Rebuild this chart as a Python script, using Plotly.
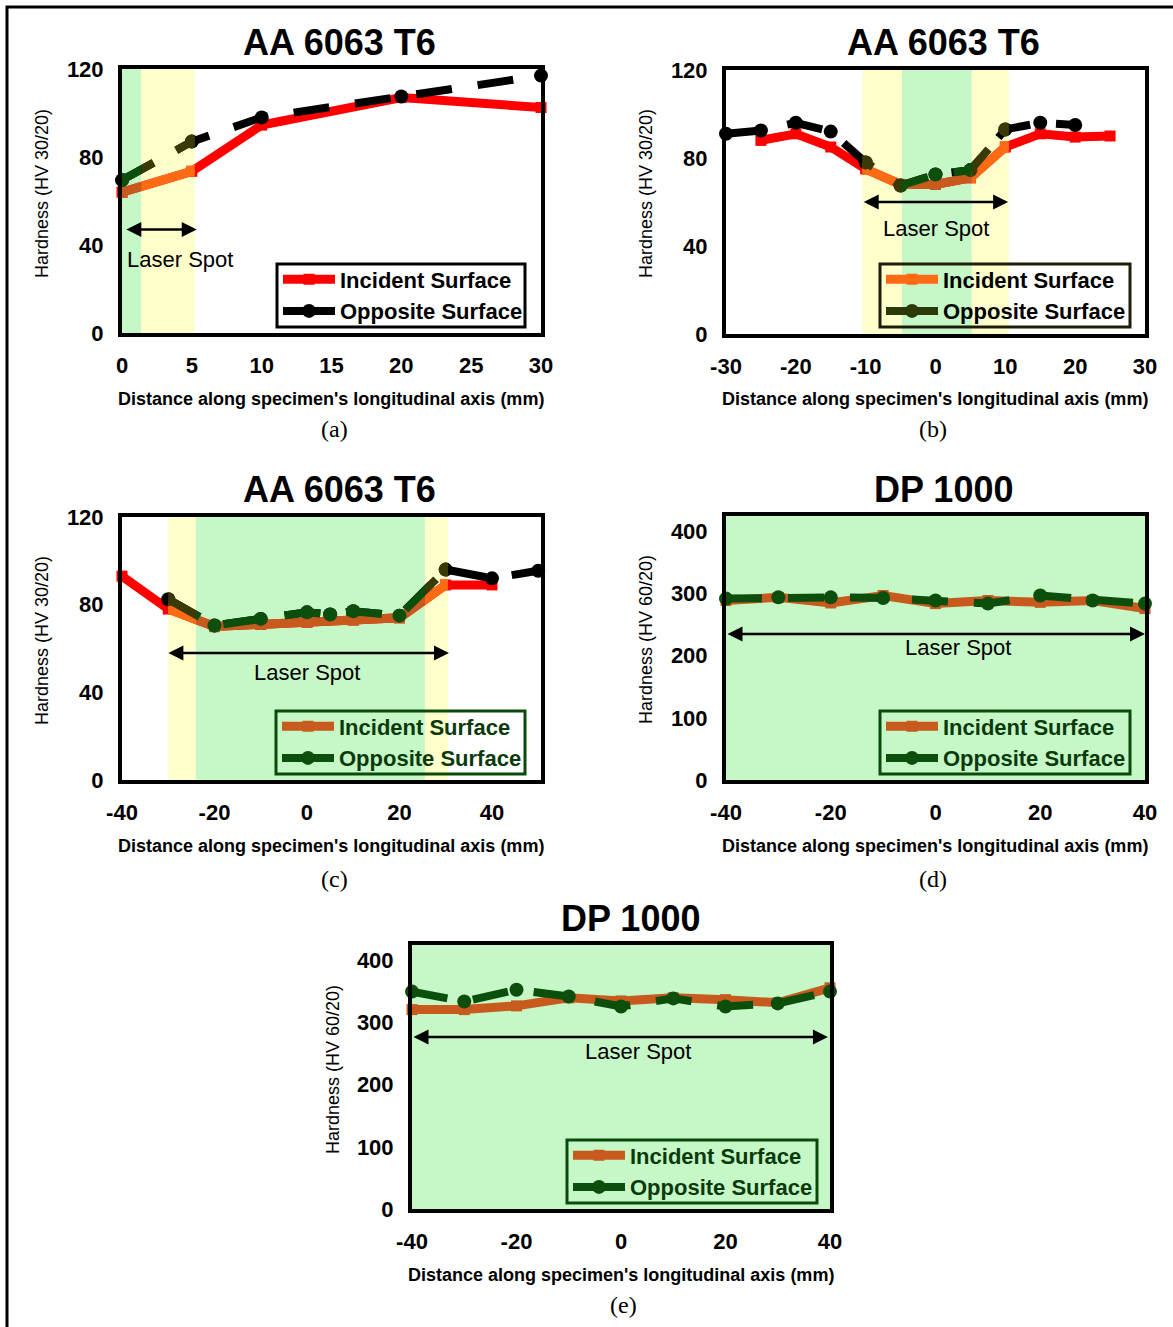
import plotly.graph_objects as go

W, H = 1173, 1327

# ---------------- data ----------------
a_inc_x = [0, 5, 10, 20, 30]
a_inc_y = [64, 73.5, 94.5, 107, 102.5]
a_opp_x = [0, 5, 10, 20, 30]
a_opp_y = [69.5, 87, 98, 107.5, 117]

b_inc_x = [-25, -20, -15, -10, -5, 0, 5, 10, 15, 20, 25]
b_inc_y = [88, 91, 85, 75, 68, 68, 71, 85, 91, 89.5, 90]
b_opp_x = [-30, -25, -20, -15, -10, -5, 0, 5, 10, 15, 20]
b_opp_y = [91, 92.5, 96, 92, 78, 67.5, 72.5, 74.5, 93, 96, 95]

c_inc_x = [-40, -30, -20, -10, 0, 10, 20, 30, 40]
c_inc_y = [93, 78, 70, 71, 72, 73, 74, 89, 89]
c_opp_x = [-30, -20, -10, 0, 5, 10, 20, 30, 40, 50]
c_opp_y = [82.5, 70.5, 73.5, 76.5, 75.5, 77, 75, 96, 92, 95.5]

d_x = [-40, -30, -20, -10, 0, 10, 20, 30, 40]
d_inc_y = [289, 294, 285, 297, 284, 289, 286, 289, 276]
d_opp_y = [292, 294, 294, 293, 289, 284, 297, 289, 284]

e_x = [-40, -30, -20, -10, 0, 10, 20, 30, 40]
e_inc_y = [321, 321, 327, 340, 335, 340, 337, 332, 356]
e_opp_y = [350, 334, 353, 342, 326, 339, 326, 331, 350]

ticks_a = [0, 5, 10, 15, 20, 25, 30]
ticks_b = [-30, -20, -10, 0, 10, 20, 30]
ticks_cde = [-40, -20, 0, 20, 40]
yticks_al = [0, 40, 80, 120]
yticks_dp = [0, 100, 200, 300, 400]

titles = ["AA 6063 T6", "AA 6063 T6", "AA 6063 T6", "DP 1000", "DP 1000"]
ytitles = ["Hardness (HV 30/20)", "Hardness (HV 30/20)", "Hardness (HV 30/20)",
           "Hardness (HV 60/20)", "Hardness (HV 60/20)"]
xtitle = "Distance along specimen's longitudinal axis (mm)"
captions = ["(a)", "(b)", "(c)", "(d)", "(e)"]
series_names = ["Incident Surface", "Opposite Surface"]

# ---------------- styling ----------------
FONT = "Arial, Liberation Sans, sans-serif"
SERIF = "Times New Roman, Liberation Serif, serif"
GREEN_BG = "#c6f7c6"
YELLOW_BG = "#ffffcc"
RED = "#ff0000"
BLACK = "#000000"
INC_COL = {"white": RED, "yellow": "#ff6a14", "green": "#c85a1e"}
OPP_COL = {"white": BLACK, "yellow": "#3a3a08", "green": "#0c4f0c"}
BG_COL = {"yellow": YELLOW_BG, "green": GREEN_BG}
DASH = "36px,26px"


def px(x):
    return x / W


def py(y):
    return 1 - y / H


panels = [
    dict(dom_x=(122, 541), dom_y=(69, 333), xr=[0, 30], yr=[0, 120], xt=ticks_a, yt=yticks_al,
         inc=(a_inc_x, a_inc_y), opp=(a_opp_x, a_opp_y),
         regions=[(0, 1.37, "green"), (1.37, 5.2, "yellow")], full="white",
         arrow=(0.2, 5.35, 47), spot=(4.15, 33.6),
         title=(339, 42), xtit=(331, 399), ytit=(42, 194), cap=(334, 429),
         lbox=(277, 264, 525, 327), leg_inc=RED, leg_opp=BLACK, leg_border=BLACK, leg_text=BLACK),
    dict(dom_x=(726, 1145), dom_y=(70, 334), xr=[-30, 30], yr=[0, 120], xt=ticks_b, yt=yticks_al,
         inc=(b_inc_x, b_inc_y), opp=(b_opp_x, b_opp_y),
         regions=[(-10.5, -4.8, "yellow"), (-4.8, 5.2, "green"), (5.2, 10.5, "yellow")], full="white",
         arrow=(-10.5, 10.4, 60), spot=(0, 48),
         title=(943, 42), xtit=(935, 399), ytit=(646, 194), cap=(933, 429),
         lbox=(880, 264, 1130, 327), leg_inc="#ff6a14", leg_opp="#2a3a08", leg_border="#1e1e08", leg_text=BLACK),
    dict(dom_x=(122, 541), dom_y=(517, 780), xr=[-40, 50.6], yr=[0, 120], xt=ticks_cde, yt=yticks_al,
         inc=(c_inc_x, c_inc_y), opp=(c_opp_x, c_opp_y),
         regions=[(-30, -24, "yellow"), (-24, 25.5, "green"), (25.5, 30.5, "yellow")], full="white",
         arrow=(-30.3, 30.7, 58), spot=(0, 49),
         title=(339, 489), xtit=(331, 846), ytit=(42, 641), cap=(334, 879),
         lbox=(276, 711, 525, 774), leg_inc="#c85a1e", leg_opp="#0c4f0c", leg_border="#0c4a0c", leg_text="#0a3a0a"),
    dict(dom_x=(726, 1145), dom_y=(516, 780), xr=[-40, 40], yr=[0, 425], xt=ticks_cde, yt=yticks_dp,
         inc=(d_x, d_inc_y), opp=(d_x, d_opp_y),
         regions=[], full="green",
         arrow=(-40, 40, 235), spot=(4.2, 213),
         title=(943, 489), xtit=(935, 846), ytit=(646, 640), cap=(933, 879),
         lbox=(880, 711, 1130, 774), leg_inc="#c85a1e", leg_opp="#0c4f0c", leg_border="#0c4a0c", leg_text="#0a3a0a"),
    dict(dom_x=(412, 830), dom_y=(945, 1209), xr=[-40, 40], yr=[0, 425], xt=ticks_cde, yt=yticks_dp,
         inc=(e_x, e_inc_y), opp=(e_x, e_opp_y),
         regions=[], full="green",
         arrow=(-40, 39.6, 277), spot=(3.3, 253),
         title=(630, 918), xtit=(621, 1275), ytit=(333, 1070), cap=(623, 1305),
         lbox=(567, 1140, 817, 1203), leg_inc="#c85a1e", leg_opp="#0c4f0c", leg_border="#0c4a0c", leg_text="#0a3a0a"),
]

fig = go.Figure()
layout = dict(
    width=W, height=H, margin=dict(l=0, r=0, t=0, b=0, pad=0, autoexpand=False),
    paper_bgcolor="white", plot_bgcolor="rgba(0,0,0,0)",
    font=dict(family=FONT, color="black"),
    showlegend=True,
)
shapes = []
annotations = []

next_axis = 6


def add_series(xs, ys, kind, color, xref, yref, clip=True):
    if kind == "inc":
        fig.add_trace(go.Scatter(
            x=xs, y=ys, mode="lines+markers", xaxis=xref, yaxis=yref, showlegend=False,
            line=dict(color=color, width=9),
            marker=dict(symbol="square", size=11, color=color),
            cliponaxis=clip, hoverinfo="skip"))
    else:
        fig.add_trace(go.Scatter(
            x=xs, y=ys, mode="lines+markers", xaxis=xref, yaxis=yref, showlegend=False,
            line=dict(color=color, width=8, dash=DASH),
            marker=dict(symbol="circle", size=14, color=color),
            cliponaxis=clip, hoverinfo="skip"))


def tick_text(vals):
    return [str(v) for v in vals]  # plain hyphen minus, as in the original


for i, p in enumerate(panels, start=1):
    sx = "" if i == 1 else str(i)
    xname, yname = "x" + sx, "y" + sx
    d0, d1 = px(p["dom_x"][0]), px(p["dom_x"][1])
    r0, r1 = p["xr"]
    axis_common = dict(showline=True, mirror=True, linewidth=4, linecolor="black",
                       showgrid=False, zeroline=False, ticks="", fixedrange=True,
                       tickfont=dict(family=FONT, size=22, color="black", weight="bold"))
    layout["xaxis" + sx] = dict(domain=[d0, d1], range=p["xr"], anchor=yname,
                                tickvals=p["xt"], ticktext=tick_text(p["xt"]),
                                ticklabelstandoff=10, **axis_common)
    layout["yaxis" + sx] = dict(domain=[py(p["dom_y"][1]), py(p["dom_y"][0])], range=p["yr"],
                                anchor=xname, tickvals=p["yt"], ticktext=tick_text(p["yt"]),
                                ticklabelstandoff=10, **axis_common)

    # background shading
    if p["full"] == "green":
        shapes.append(dict(type="rect", xref=xname + " domain", yref=yname + " domain",
                           x0=0, x1=1, y0=0, y1=1, fillcolor=GREEN_BG, line=dict(width=0), layer="below"))
    for a, b, key in p["regions"]:
        shapes.append(dict(type="rect", xref=xname, yref=yname + " domain",
                           x0=a, x1=b, y0=0, y1=1, fillcolor=BG_COL[key], line=dict(width=0), layer="below"))

    # base series
    base = p["full"]
    add_series(p["inc"][0], p["inc"][1], "inc", INC_COL[base], xname, yname, clip=False)
    add_series(p["opp"][0], p["opp"][1], "opp", OPP_COL[base], xname, yname, clip=False)

    # tinted overlays, clipped to each shaded region by its own axis domain
    for a, b, key in p["regions"]:
        rid = str(next_axis)
        next_axis += 1
        layout["xaxis" + rid] = dict(domain=[d0 + (a - r0) / (r1 - r0) * (d1 - d0),
                                             d0 + (b - r0) / (r1 - r0) * (d1 - d0)],
                                     range=[a, b], anchor=yname, visible=False, fixedrange=True)
        add_series(p["inc"][0], p["inc"][1], "inc", INC_COL[key], "x" + rid, yname, clip=True)
        add_series(p["opp"][0], p["opp"][1], "opp", OPP_COL[key], "x" + rid, yname, clip=True)

    # legend (box drawn as a shape, entries from the legend)
    bx0, by0, bx1, by1 = p["lbox"]
    shapes.append(dict(type="rect", xref="paper", yref="paper", x0=px(bx0), x1=px(bx1),
                       y0=py(by1), y1=py(by0), line=dict(color=p["leg_border"], width=3),
                       fillcolor="rgba(0,0,0,0)", layer="above"))
    lname = "legend" if i == 1 else "legend" + str(i)
    layout[lname] = dict(
        x=px(bx0 + 1), y=py((by0 + by1) / 2), xanchor="left", yanchor="middle",
        bgcolor="rgba(0,0,0,0)", borderwidth=0,
        font=dict(family=FONT, size=22, color=p["leg_text"], weight="bold"),
        itemwidth=52, tracegroupgap=0)
    fig.add_trace(go.Scatter(x=[None], y=[None], mode="lines+markers", name=series_names[0],
                             xaxis=xname, yaxis=yname, legend=lname,
                             line=dict(color=p["leg_inc"], width=9),
                             marker=dict(symbol="square", size=11, color=p["leg_inc"])))
    fig.add_trace(go.Scatter(x=[None], y=[None], mode="lines+markers", name=series_names[1],
                             xaxis=xname, yaxis=yname, legend=lname,
                             line=dict(color=p["leg_opp"], width=8),
                             marker=dict(symbol="circle", size=14, color=p["leg_opp"])))

    # laser spot arrow + label
    ax0, ax1, ay = p["arrow"]
    annotations.append(dict(x=ax1, y=ay, ax=ax0, ay=ay, xref=xname, yref=yname,
                            axref=xname, ayref=yname, text="", showarrow=True,
                            arrowhead=2, arrowside="end+start", arrowsize=1.2,
                            arrowwidth=2.5, arrowcolor="black", standoff=0, startstandoff=0))
    annotations.append(dict(x=p["spot"][0], y=p["spot"][1], xref=xname, yref=yname,
                            text="Laser Spot", showarrow=False, xanchor="center", yanchor="middle",
                            font=dict(family=FONT, size=22, color="black")))
    # titles & labels
    annotations.append(dict(x=px(p["title"][0]), y=py(p["title"][1]), xref="paper", yref="paper",
                            text="<b>" + titles[i - 1] + "</b>", showarrow=False,
                            xanchor="center", yanchor="middle",
                            font=dict(family=FONT, size=36, color="black")))
    annotations.append(dict(x=px(p["xtit"][0]), y=py(p["xtit"][1]), xref="paper", yref="paper",
                            text="<b>" + xtitle + "</b>", showarrow=False,
                            xanchor="center", yanchor="middle",
                            font=dict(family=FONT, size=18, color="black")))
    annotations.append(dict(x=px(p["ytit"][0]), y=py(p["ytit"][1]), xref="paper", yref="paper",
                            text=ytitles[i - 1], showarrow=False, textangle=-90,
                            xanchor="center", yanchor="middle",
                            font=dict(family=FONT, size=18, color="black")))
    annotations.append(dict(x=px(p["cap"][0]), y=py(p["cap"][1]), xref="paper", yref="paper",
                            text=captions[i - 1], showarrow=False,
                            xanchor="center", yanchor="middle",
                            font=dict(family=SERIF, size=24, color="black")))

# outer frame of the figure (left and top edges visible)
shapes.append(dict(type="rect", xref="paper", yref="paper", x0=px(7), x1=1.02, y0=-0.02, y1=py(7),
                   line=dict(color="black", width=3), fillcolor="rgba(0,0,0,0)", layer="above"))

layout["shapes"] = shapes
layout["annotations"] = annotations
fig.update_layout(**layout)
fig.write_html("out.html")
